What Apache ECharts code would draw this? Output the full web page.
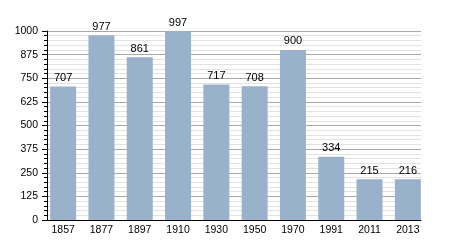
<!DOCTYPE html>
<html><head><meta charset="utf-8">
<script src="https://cdn.jsdelivr.net/npm/echarts@6/dist/echarts.min.js"></script>
<style>html,body{margin:0;padding:0;background:#fff}#c{width:450px;height:250px}</style>
</head><body><div id="c"></div>
<script>
const categories = ['1857','1877','1897','1910','1930','1950','1970','1991','2011','2013'];
const population = [707, 977, 861, 997, 717, 708, 900, 334, 215, 216];
const yTicks = [0,125,250,375,500,625,750,875,1000];

const chart = echarts.init(document.getElementById('c'), null, {renderer:'canvas'});
chart.setOption({
  animation:false,
  backgroundColor:'#fff',
  textStyle:{fontFamily:'Liberation Sans, Arial, sans-serif'},
  grid:[
    {left:47, right:29, top:31, bottom:30, containLabel:false},
    {left:44, right:23, top:31, bottom:30, containLabel:false}
  ],
  xAxis:[{
    gridIndex:0, type:'category', data:categories,
    axisLine:{lineStyle:{color:'#000', width:1}},
    axisTick:{show:false},
    axisLabel:{show:false},
    splitLine:{show:false}
  },{
    gridIndex:1, type:'category', data:categories,
    axisLine:{show:false},
    axisTick:{show:false},
    axisLabel:{color:'#000', fontSize:10.5, margin:5},
    splitLine:{show:false}
  }],
  yAxis:[{
    gridIndex:0, type:'value', min:yTicks[0], max:yTicks[yTicks.length-1], interval:125,
    axisLine:{show:true, lineStyle:{color:'#000', width:1}},
    axisTick:{show:true, length:5, lineStyle:{color:'#000'}},
    minorTick:{show:true, splitNumber:5, length:3, lineStyle:{color:'#000'}},
    axisLabel:{color:'#000', fontSize:10.5, margin:9, formatter:function(v){return String(v);}},
    splitLine:{show:true, lineStyle:{color:'#a8a8a8', width:1}},
    minorSplitLine:{show:true, lineStyle:{color:'#e2e2e2', width:1}}
  },{
    gridIndex:1, type:'value', min:yTicks[0], max:yTicks[yTicks.length-1], interval:125,
    show:false, splitLine:{show:false}
  }],
  series:[{
    type:'bar', xAxisIndex:1, yAxisIndex:1, data:population, barWidth:26,
    itemStyle:{color:'#9ab1cb'},
    label:{show:true, position:'top', color:'#000', fontSize:11, distance:3}
  }]
});
</script></body></html>
